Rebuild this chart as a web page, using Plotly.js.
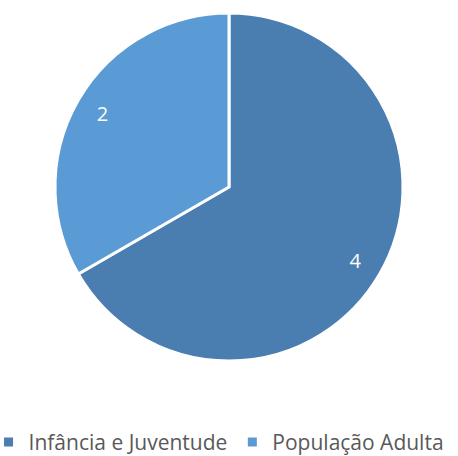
<!DOCTYPE html>
<html><head><meta charset="utf-8">
<script src="https://cdn.plot.ly/plotly-3.0.1.min.js"></script>
<style>html,body{margin:0;padding:0;background:#fff}</style>
</head><body>
<div id="chart" style="width:458px;height:456px"></div>
<script>
const categories = ["Infância e Juventude", "População Adulta"];
const values = [4, 2];
const colors = ["#4a7eb1", "#5b9bd5"];

const pieDomain = {x: [55/458, 403/458], y: [1 - 361/456, 1 - 13/456]};
const font = "Open Sans, Liberation Sans, Arial, sans-serif";

Plotly.newPlot("chart", [{
  type: "pie",
  labels: categories,
  values: values,
  sort: false,
  direction: "clockwise",
  rotation: 0,
  domain: pieDomain,
  marker: {colors: colors, line: {color: "#ffffff", width: 3}},
  textinfo: "none",
  hoverinfo: "none"
}, {
  type: "pie",
  labels: categories,
  values: values,
  sort: false,
  direction: "clockwise",
  rotation: 0,
  domain: pieDomain,
  hole: 0.68,
  showlegend: false,
  marker: {colors: ["rgba(0,0,0,0)", "rgba(0,0,0,0)"], line: {width: 0}},
  textinfo: "value",
  textposition: "inside",
  insidetextorientation: "horizontal",
  textfont: {family: font, size: 20, color: "#ffffff"},
  hoverinfo: "none"
}], {
  width: 458, height: 456,
  margin: {l: 0, r: 0, t: 0, b: 0, autoexpand: false},
  paper_bgcolor: "#ffffff",
  showlegend: true,
  legend: {
    orientation: "h",
    x: -0.025, xanchor: "left", y: -0.015, yanchor: "bottom",
    font: {family: font, size: 21, color: "#595959"},
    itemwidth: 30
  }
}, {displayModeBar: false, staticPlot: true});
</script>
</body></html>
